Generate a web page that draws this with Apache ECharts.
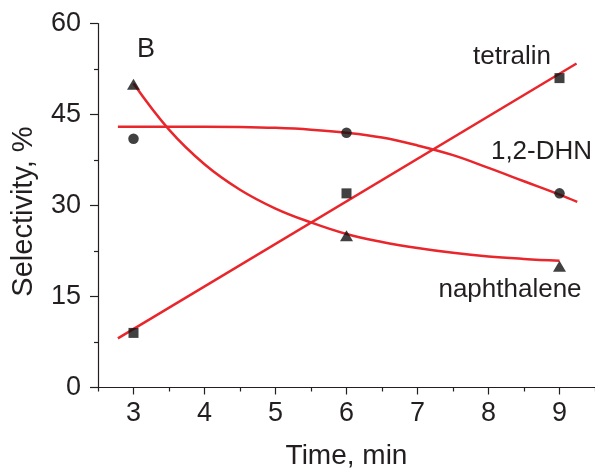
<!DOCTYPE html>
<html>
<head>
<meta charset="utf-8">
<script src="https://cdn.jsdelivr.net/npm/echarts@6/dist/echarts.min.js"></script>
<style>html,body{margin:0;padding:0;background:#fff}#c{width:595px;height:470px}</style>
</head>
<body>
<div id="c"></div>
<script>
// measured points
const timeMin = [3, 6, 9];
const tetralinPts = [9, 32, 51];
const dhnPts = [41, 42, 32];
const naphPts = [50, 25, 20];

// fitted curves
const tetralinFitX = [2.78, 9.24];
const tetralinFitY = [8.1, 53.4];
const dhnFitX = [2.78, 3.5, 4, 4.5, 5, 5.5, 6, 6.5, 7, 7.5, 8, 8.5, 9, 9.25];
const dhnFitY = [43, 43, 43, 42.95, 42.8, 42.5, 42, 41.2, 39.9, 38.3, 36.2, 34, 31.8, 30.6];
const naphFitX = [3, 3.5, 4, 4.5, 5, 5.5, 6, 6.5, 7, 7.5, 8, 8.5, 9];
const naphFitY = [50.1, 42.5, 36.8, 32.6, 29.5, 27.2, 25.3, 24, 23, 22.2, 21.6, 21.2, 20.9];

// tick labels
const xTicks = [3, 4, 5, 6, 7, 8, 9];
const xMinorTicks = [2.5, 3.5, 4.5, 5.5, 6.5, 7.5, 8.5, 9.5];
const yTicks = [0, 15, 30, 45, 60];

const seriesNames = ['tetralin', '1,2-DHN', 'naphthalene'];
const panelLabel = 'B';

const FONT = "'Liberation Sans', Arial, Helvetica, sans-serif";
const TXT = '#231f20';
const RED = '#e8262b';
const BLK = '#111111';

const pair = (xs, ys) => xs.map((x, i) => [x, ys[i]]);

const chart = echarts.init(document.getElementById('c'), null, {renderer: 'canvas'});
chart.setOption({
  animation: false,
  backgroundColor: '#fff',
  textStyle: {fontFamily: FONT},
  grid: {left: 98, right: 0, top: 23.5, bottom: 82.5, containLabel: false, outerBoundsMode: 'none'},
  xAxis: [{
    type: 'value', min: 2.5, max: 9.5,
    name: 'Time, min', nameLocation: 'middle', nameGap: 55,
    nameTextStyle: {fontSize: 28, color: TXT, fontFamily: FONT},
    axisLine: {show: true, lineStyle: {color: TXT, width: 1.2}},
    axisTick: {show: true, customValues: xTicks, length: 7, lineStyle: {color: TXT, width: 1.2}},
    axisLabel: {show: true, customValues: xTicks, fontSize: 27, color: TXT, margin: 13, fontFamily: FONT},
    splitLine: {show: false}
  }, {
    type: 'value', min: 2.5, max: 9.5, position: 'bottom',
    axisLine: {show: false},
    axisTick: {show: true, customValues: xMinorTicks, length: 4, lineStyle: {color: TXT, width: 1.2}},
    axisLabel: {show: false},
    splitLine: {show: false}
  }],
  yAxis: {
    type: 'value', min: yTicks[0], max: yTicks[yTicks.length - 1], interval: 15,
    name: 'Selectivity, %', nameLocation: 'middle', nameGap: 60,
    nameTextStyle: {fontSize: 29, color: TXT, fontFamily: FONT, padding: [0, 12, 0, 0]},
    axisLine: {show: true, lineStyle: {color: TXT, width: 1.2}},
    axisTick: {show: true, length: 8, lineStyle: {color: TXT, width: 1.2}},
    minorTick: {show: true, splitNumber: 2, length: 4, lineStyle: {color: TXT, width: 1.2}},
    axisLabel: {fontSize: 27, color: TXT, margin: 17, fontFamily: FONT, padding: [5, 0, 0, 0]},
    splitLine: {show: false}
  },
  series: [
    {type: 'line', data: pair(tetralinFitX, tetralinFitY), showSymbol: false, symbol: 'none',
     lineStyle: {color: RED, width: 2.5}, z: 2},
    {type: 'line', data: pair(dhnFitX, dhnFitY), showSymbol: false, symbol: 'none', smooth: 0.4,
     lineStyle: {color: RED, width: 2.5}, z: 2},
    {type: 'line', data: pair(naphFitX, naphFitY), showSymbol: false, symbol: 'none', smooth: 0.4,
     lineStyle: {color: RED, width: 2.5}, z: 2},
    {type: 'scatter', name: seriesNames[0], data: pair(timeMin, tetralinPts), symbol: 'rect', symbolSize: 10,
     itemStyle: {color: BLK}, z: 3},
    {type: 'scatter', name: seriesNames[1], data: pair(timeMin, dhnPts), symbol: 'circle', symbolSize: 10.5,
     itemStyle: {color: BLK}, z: 3},
    {type: 'scatter', name: seriesNames[2], data: pair(timeMin, naphPts), symbol: 'triangle', symbolSize: [13, 11],
     itemStyle: {color: BLK}, z: 3}
  ],
  graphic: [
    {type: 'text', x: 146, y: 50, style: {text: panelLabel, font: '27px ' + FONT, fill: TXT, align: 'center', verticalAlign: 'middle'}},
    {type: 'text', x: 512, y: 56.5, style: {text: seriesNames[0], font: '26px ' + FONT, fill: TXT, align: 'center', verticalAlign: 'middle'}},
    {type: 'text', x: 541.5, y: 152.3, style: {text: seriesNames[1], font: '26px ' + FONT, fill: TXT, align: 'center', verticalAlign: 'middle'}},
    {type: 'text', x: 510, y: 289.6, style: {text: seriesNames[2], font: '26px ' + FONT, fill: TXT, align: 'center', verticalAlign: 'middle'}}
  ]
});
</script>
</body>
</html>
